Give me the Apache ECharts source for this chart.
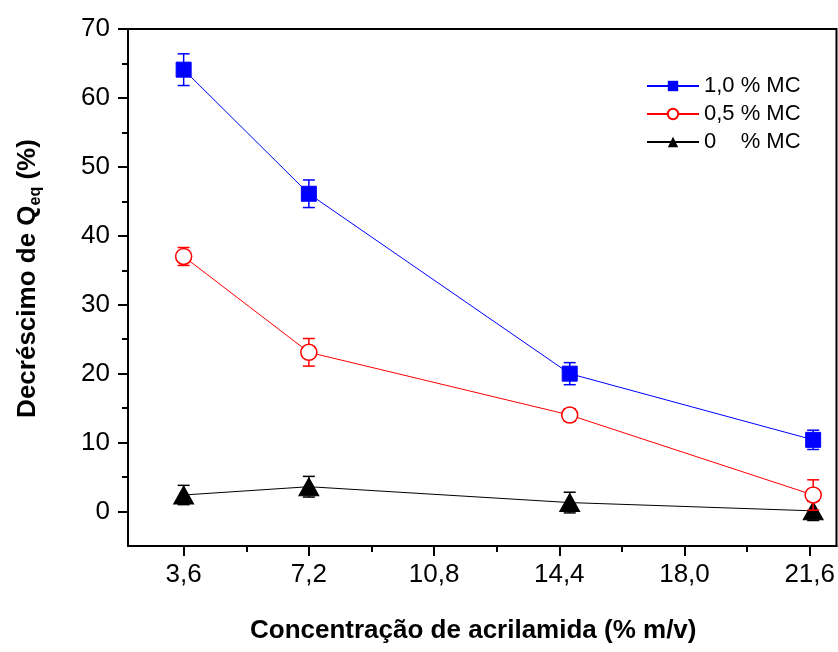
<!DOCTYPE html>
<html>
<head>
<meta charset="utf-8">
<script src="https://cdn.jsdelivr.net/npm/echarts@6/dist/echarts.min.js"></script>
<style>
html,body{margin:0;padding:0;background:#fff;}
#chart{width:838px;height:652px;}
</style>
</head>
<body>
<div id="chart"></div>
<script>
// ---- data ----
var xValues = [3.6, 7.2, 14.7, 21.7];
var xTickMajor = [3.6, 7.2, 10.8, 14.4, 18.0, 21.6];
var xTickMinor = [5.4, 9.0, 12.6, 16.2, 19.8];
var yTickMajor = [0, 10, 20, 30, 40, 50, 60, 70];
var yTickMinor = [5, 15, 25, 35, 45, 55, 65];
var seriesNames = ['1,0 % MC', '0,5 % MC', '0    % MC'];
var mc10 = [64.1, 46.1, 20.0, 10.4];
var mc10Err = [2.3, 2.0, 1.6, 1.4];
var mc05 = [37.0, 23.1, 14.0, 2.4];
var mc05Err = [1.3, 2.0, 0.9, 2.2];
var mc00 = [2.4, 3.6, 1.3, 0.1];
var mc00Err = [1.4, 1.5, 1.5, 1.4];

var FONT = "'Liberation Sans', Arial, sans-serif";

function pts(ys) { return xValues.map(function (x, i) { return [x, ys[i]]; }); }
function errs(ys, es) { return xValues.map(function (x, i) { return [x, ys[i] - es[i], ys[i] + es[i]]; }); }

function errSeries(ys, es, color, z) {
  return {
    type: 'custom', xAxisIndex: 0, yAxisIndex: 0, z: z, silent: true,
    data: errs(ys, es),
    renderItem: function (params, api) {
      var x = api.value(0);
      var lo = api.coord([x, api.value(1)]);
      var hi = api.coord([x, api.value(2)]);
      var hw = 6;
      var st = { stroke: color, lineWidth: 1.5, fill: null };
      return {
        type: 'group',
        children: [
          { type: 'line', shape: { x1: lo[0], y1: lo[1], x2: hi[0], y2: hi[1] }, style: st },
          { type: 'line', shape: { x1: lo[0] - hw, y1: lo[1], x2: lo[0] + hw, y2: lo[1] }, style: st },
          { type: 'line', shape: { x1: hi[0] - hw, y1: hi[1], x2: hi[0] + hw, y2: hi[1] }, style: st }
        ]
      };
    }
  };
}

var xMin = 2.0, xMax = 22.37;
var chart = echarts.init(document.getElementById('chart'));
chart.setOption({
  backgroundColor: '#fff',
  animation: false,
  textStyle: { fontFamily: FONT, color: '#000' },
  grid: { left: 128, right: 1, top: 29, bottom: 106, show: true, borderColor: '#000', borderWidth: 2, backgroundColor: 'transparent' },
  legend: {
    orient: 'vertical', left: 641, top: 70, itemWidth: 52, itemHeight: 13, itemGap: 6,
    textStyle: { fontSize: 22, color: '#000', fontFamily: FONT },
    data: seriesNames
  },
  xAxis: [
    {
      type: 'value', min: xMin, max: xMax, position: 'bottom',
      axisLine: { show: true, onZero: false, lineStyle: { color: '#000', width: 2 } },
      axisTick: { show: true, length: 10, lineStyle: { color: '#000', width: 2 }, customValues: xTickMajor },
      axisLabel: { fontSize: 26, color: '#000', fontFamily: FONT, margin: 16, customValues: xTickMajor,
        formatter: function (v) { return v.toFixed(1).replace('.', ','); } },
      splitLine: { show: false },
      name: 'Concentração de acrilamida (% m/v)', nameLocation: 'middle', nameGap: 72,
      nameTextStyle: { fontSize: 26, fontWeight: 'bold', color: '#000', fontFamily: FONT, padding: [0, 18, 0, 0] }
    },
    {
      type: 'value', min: xMin, max: xMax, position: 'bottom',
      axisLine: { show: false, onZero: false },
      axisTick: { show: true, length: 6, lineStyle: { color: '#000', width: 2 }, customValues: xTickMinor },
      axisLabel: { show: false },
      splitLine: { show: false }
    }
  ],
  yAxis: [
    {
      type: 'value', min: -5, max: 70, position: 'left',
      axisLine: { show: true, onZero: false, lineStyle: { color: '#000', width: 2 } },
      axisTick: { show: true, length: 10, lineStyle: { color: '#000', width: 2 }, customValues: yTickMajor },
      axisLabel: { fontSize: 26, color: '#000', fontFamily: FONT, margin: 18, customValues: yTickMajor },
      splitLine: { show: false },
      name: '{t|Decréscimo de Q}{s|eq}{t| (%)}', nameLocation: 'middle', nameGap: 84,
      nameTextStyle: {
        color: '#000',
        padding: [0, 0, 0, 18],
        rich: {
          t: { fontSize: 26, fontWeight: 'bold', fontFamily: FONT, color: '#000', lineHeight: 32, verticalAlign: 'middle' },
          s: { fontSize: 16, fontWeight: 'bold', fontFamily: FONT, color: '#000', lineHeight: 17, verticalAlign: 'bottom' }
        }
      }
    },
    {
      type: 'value', min: -5, max: 70, position: 'left',
      axisLine: { show: false, onZero: false },
      axisTick: { show: true, length: 6, lineStyle: { color: '#000', width: 2 }, customValues: yTickMinor },
      axisLabel: { show: false },
      splitLine: { show: false }
    }
  ],
  series: [
    errSeries(mc00, mc00Err, '#000000', 2),
    {
      name: seriesNames[2], type: 'line', z: 3, data: pts(mc00),
      symbol: 'triangle', symbolSize: [20, 18],
      lineStyle: { color: '#000000', width: 1 },
      itemStyle: { color: '#000000', borderColor: '#000000' }
    },
    errSeries(mc05, mc05Err, '#ff0000', 4),
    {
      name: seriesNames[1], type: 'line', z: 5, data: pts(mc05),
      symbol: 'circle', symbolSize: 16,
      lineStyle: { color: '#ff0000', width: 1 },
      itemStyle: { color: '#ffffff', borderColor: '#ff0000', borderWidth: 1.5 }
    },
    errSeries(mc10, mc10Err, '#0000ff', 6),
    {
      name: seriesNames[0], type: 'line', z: 7, data: pts(mc10),
      symbol: 'rect', symbolSize: 15,
      lineStyle: { color: '#0000ff', width: 1 },
      itemStyle: { color: '#0000ff', borderColor: '#0000ff' }
    }
  ]
});
</script>
</body>
</html>
